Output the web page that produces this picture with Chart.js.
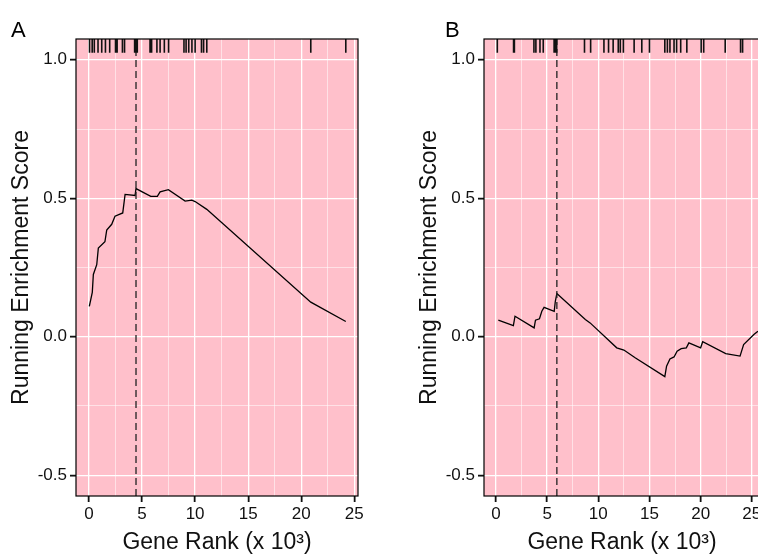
<!DOCTYPE html>
<html>
<head>
<meta charset="utf-8">
<script src="https://cdn.jsdelivr.net/npm/chart.js@4.4.1/dist/chart.umd.min.js"></script>
<style>
  html, body { margin: 0; padding: 0; background: #fff; overflow: hidden; width: 758px; height: 554px; }
  canvas { position: absolute; top: 0; }
  #plotA { left: 0; }
  #plotB { left: 408px; }
</style>
</head>
<body>
<canvas id="plotA" width="379" height="554"></canvas>
<canvas id="plotB" width="373" height="554"></canvas>
<script>
// Two GSEA running-score panels (A, B), gene rank in thousands.
const rankA = [0.03, 0.31, 0.41, 0.73, 0.88, 1.5, 1.67, 2.14, 2.45, 3.18, 3.4, 4.34, 4.43, 5.82, 6.44, 6.7, 7.48, 9.06, 9.69, 10.0, 11.1, 20.9, 24.2];
const esA = [0.11, 0.16, 0.225, 0.26, 0.32, 0.343, 0.385, 0.406, 0.435, 0.447, 0.514, 0.51, 0.535, 0.507, 0.507, 0.523, 0.531, 0.49, 0.493, 0.488, 0.46, 0.125, 0.055];
const hitsA = [0.05, 0.3, 0.5, 0.85, 1.2, 1.55, 1.95, 2.5, 2.65, 3.15, 3.35, 4.3, 4.45, 4.55, 5.75, 5.9, 6.4, 6.7, 7.1, 7.5, 8.95, 9.15, 9.4, 9.7, 10.0, 10.6, 10.8, 11.1, 20.9, 24.2];
const peakA = 4.43;

const rankB = [0.23, 1.7, 1.86, 3.73, 3.86, 4.25, 4.48, 4.7, 5.69, 5.8, 5.95, 8.73, 9.2, 11.8, 12.5, 13.6, 16.5, 16.67, 17.0, 17.4, 17.7, 18.1, 18.6, 18.85, 20.0, 20.2, 22.45, 23.85, 24.2, 25.2, 25.6];
const esB = [0.06, 0.04, 0.074, 0.032, 0.06, 0.065, 0.092, 0.106, 0.092, 0.128, 0.156, 0.062, 0.05, -0.04, -0.048, -0.076, -0.144, -0.106, -0.08, -0.073, -0.052, -0.043, -0.04, -0.022, -0.04, -0.018, -0.061, -0.07, -0.028, 0.008, 0.02];
const hitsB = [0.13, 1.72, 1.8, 3.71, 3.9, 4.3, 4.62, 5.68, 5.8, 5.93, 8.65, 9.25, 10.55, 11.0, 11.45, 11.95, 12.15, 12.45, 13.5, 14.25, 15.0, 16.5, 16.75, 17.0, 17.4, 17.65, 18.05, 18.65, 20.05, 20.3, 22.4, 23.9, 24.1];
const peakB = 5.95;

const xMajor = [0, 5, 10, 15, 20, 25];
const xMinor = [2.5, 7.5, 12.5, 17.5, 22.5];
const yMajor = [-0.5, 0, 0.5, 1];
const yMinor = [-0.25, 0.25, 0.75];

const Y_MIN = -0.575, Y_MAX = 1.075;
const RUG_LO = 1.025, RUG_HI = 1.075;
const PINK = "#ffc0cb";
const FONT = "'Liberation Sans', Arial, Helvetica, sans-serif";

Chart.defaults.font.family = FONT;
Chart.defaults.color = "#111";
Chart.defaults.animation = false;

const panel = {
  id: "panel",
  beforeDraw(chart) {
    const { ctx, chartArea: a } = chart;
    ctx.save();
    ctx.fillStyle = PINK;
    ctx.fillRect(a.left, a.top, a.width, a.height);
    ctx.restore();
  },
  afterDatasetsDraw(chart) {
    const { ctx, chartArea: a } = chart;
    ctx.save();
    ctx.strokeStyle = "#000";
    ctx.lineWidth = 1.2;
    ctx.strokeRect(a.left, a.top, a.width, a.height);
    ctx.restore();
  },
  afterDraw(chart, args, opts) {
    const ctx = chart.ctx;
    ctx.save();
    ctx.fillStyle = "#000";
    ctx.font = "22px " + FONT;
    ctx.fillText(opts.text, opts.x, opts.y);
    ctx.restore();
  },
};

function grid(major) {
  const isMajor = (c) => c.tick && major.includes(c.tick.value);
  return {
    color: (c) => isMajor(c) ? "#fff" : "rgba(255,255,255,0.75)",
    lineWidth: (c) => isMajor(c) ? 1.3 : 0.7,
    tickColor: (c) => isMajor(c) ? "#111" : "rgba(0,0,0,0)",
    tickLength: 6,
    tickWidth: 1.8,
  };
}

function draw(id, { letter, letterX, rank, es, hits, peak, xMin, xMax }) {
  const rug = hits.flatMap((h) => [{ x: h, y: RUG_HI }, { x: h, y: RUG_LO }, { x: h, y: null }]);
  new Chart(document.getElementById(id), {
    type: "line",
    data: {
      datasets: [
        { data: rug, borderColor: "#111", borderWidth: 1.6, pointRadius: 0, spanGaps: false },
        { data: [{ x: peak, y: Y_MIN }, { x: peak, y: Y_MAX }], borderColor: "#222", borderWidth: 1.3, borderDash: [7, 4], pointRadius: 0 },
        { data: rank.map((r, i) => ({ x: r, y: es[i] })), borderColor: "#000", borderWidth: 1.3, pointRadius: 0, tension: 0 },
      ],
    },
    options: {
      responsive: false,
      layout: { padding: { left: 10, top: 39, right: 21, bottom: 0 } },
      plugins: { legend: { display: false }, tooltip: { enabled: false }, panel: { text: letter, x: letterX, y: 37 } },
      scales: {
        x: {
          type: "linear", min: xMin, max: xMax,
          afterBuildTicks: (s) => { s.ticks = [...xMajor, ...xMinor].sort((a, b) => a - b).map((v) => ({ value: v })); },
          afterFit: (s) => { s.height = 58; },
          ticks: { autoSkip: false, maxRotation: 0, padding: 2, font: { size: 17 }, callback: (v) => xMajor.includes(v) ? String(v) : "" },
          grid: grid(xMajor),
          border: { display: false },
          title: { display: true, text: "Gene Rank (x 10³)", color: "#111", font: { size: 23, lineHeight: 1 }, padding: { top: 0, bottom: 0 } },
        },
        y: {
          min: Y_MIN, max: Y_MAX,
          afterBuildTicks: (s) => { s.ticks = [...yMajor, ...yMinor].sort((a, b) => a - b).map((v) => ({ value: v })); },
          afterFit: (s) => { s.width = 66; },
          ticks: { autoSkip: false, padding: 3, font: { size: 17 }, callback: (v) => yMajor.includes(v) ? v.toFixed(1) : "" },
          grid: grid(yMajor),
          border: { display: false },
          title: { display: true, text: "Running Enrichment Score", color: "#111", font: { size: 23, lineHeight: 1 }, padding: 0 },
        },
      },
    },
    plugins: [panel],
  });
}

draw("plotA", { letter: "A", letterX: 11, rank: rankA, es: esA, hits: hitsA, peak: peakA, xMin: -1.225, xMax: 25.35 });
draw("plotB", { letter: "B", letterX: 37, rank: rankB, es: esB, hits: hitsB, peak: peakB, xMin: -1.17, xMax: 25.8 });
</script>
</body>
</html>
